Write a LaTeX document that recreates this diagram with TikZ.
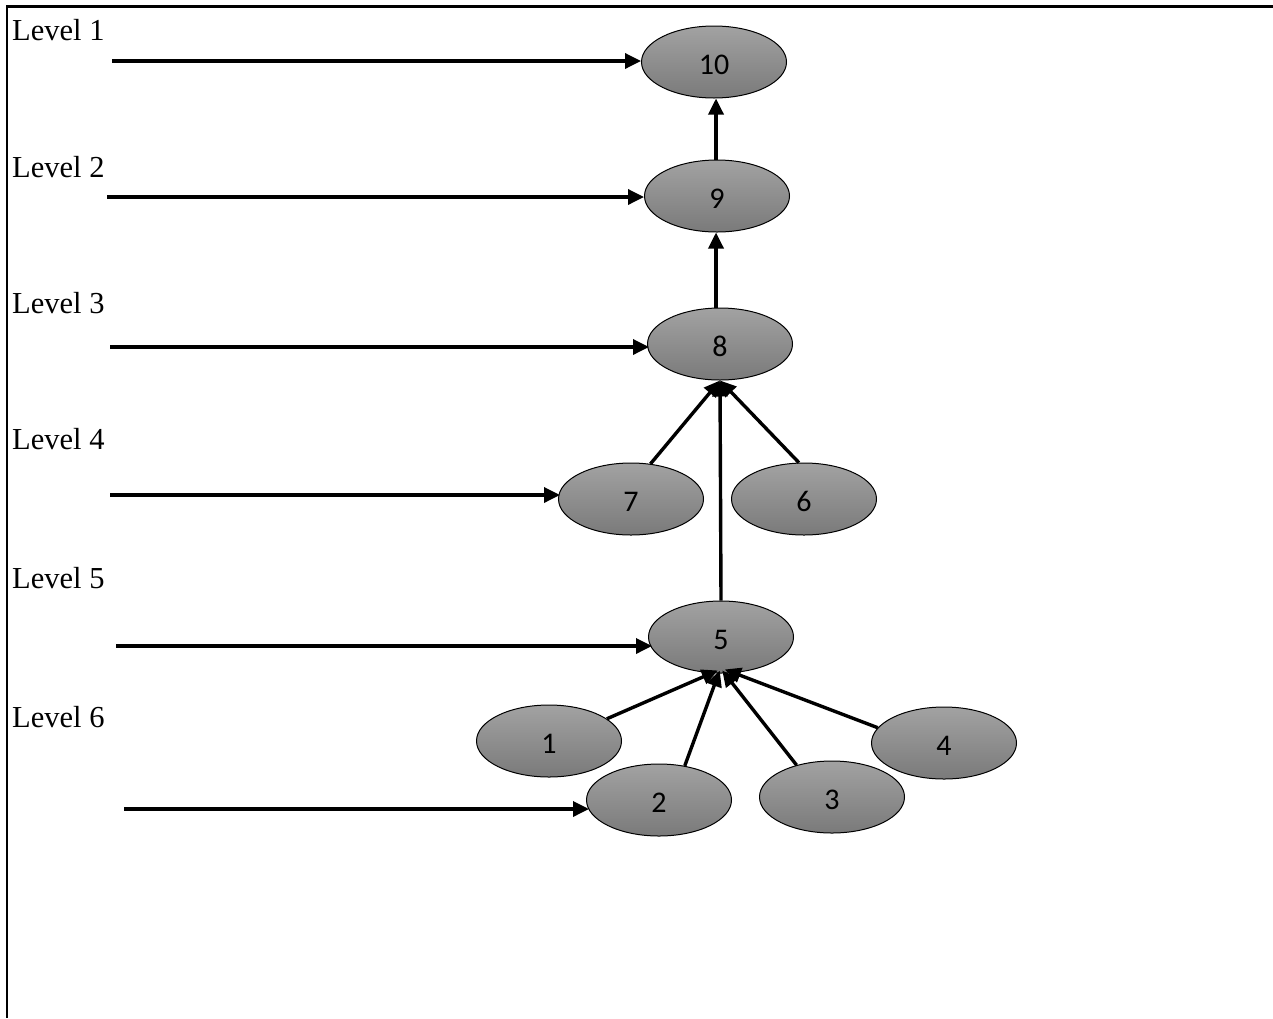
\documentclass[tikz,border=0pt]{standalone}
\usepackage{fontspec}
\setmainfont{Liberation Serif}
\newfontfamily\numfont{Carlito}
\usetikzlibrary{shapes.geometric,arrows.meta}

\tikzset{
  lvnode/.style={ellipse, draw=black, line width=1pt,
    minimum width=145pt, minimum height=72pt, inner sep=0pt,
    top color={rgb,255:red,162;green,162;blue,162},
    bottom color={rgb,255:red,122;green,122;blue,122},
    font=\numfont\fontsize{30}{30}\selectfont, text=black,
    text depth=0pt, text height=25pt},
  lvlabel/.style={anchor=base west, inner sep=0pt,
    font=\fontsize{30.5}{30.5}\selectfont},
  arr/.style={line width=3.4pt, -{Triangle[length=16pt,width=15pt]}},
  frame/.style={line width=2.2pt}
}

\begin{document}
\begin{tikzpicture}[x=1pt, y=-1pt]
  \useasboundingbox (0,0) rectangle (1273,1018);

  % frame: top and left rules
  \draw[frame] (1273,6.5) -- (7,6.5) -- (7,1018);

  % level labels
  \node[lvlabel] (l1) at (12,40)  {Level 1};
  \node[lvlabel] (l2) at (12,177) {Level 2};
  \node[lvlabel] (l3) at (12,313) {Level 3};
  \node[lvlabel] (l4) at (12,449) {Level 4};
  \node[lvlabel] (l5) at (12,588) {Level 5};
  \node[lvlabel] (l6) at (12,727) {Level 6};

  % tree nodes
  \node[lvnode] (n10) at (714,62)  {10};
  \node[lvnode] (n9)  at (717,196) {9};
  \node[lvnode] (n8)  at (720,344) {8};
  \node[lvnode] (n7)  at (631,499) {7};
  \node[lvnode] (n6)  at (804,499) {6};
  \node[lvnode] (n5)  at (721,637) {5};
  \node[lvnode] (n1)  at (549,741) {1};
  \node[lvnode] (n2)  at (659,800) {2};
  \node[lvnode] (n3)  at (832,797) {3};
  \node[lvnode] (n4)  at (944,743) {4};

  % start points of the level pointers
  \coordinate (s1) at (112,61);
  \coordinate (s2) at (107,197);
  \coordinate (s3) at (110,347);
  \coordinate (s4) at (110,495);
  \coordinate (s5) at (116,646);
  \coordinate (s6) at (124,809);

  % level pointers
  \draw[arr] (s1) -- (s1 -| n10.west);
  \draw[arr] (s2) -- (s2 -| n9.west);
  \draw[arr] (s3) -- ([xshift=2pt]s3 -| n8.west);
  \draw[arr] (s4) -- ([xshift=2pt]s4 -| n7.west);
  \draw[arr] (s5) -- ([xshift=4pt]s5 -| n5.west);
  \draw[arr] (s6) -- ([xshift=3pt]s6 -| n2.west);

  % tree edges
  \draw[arr] ([xshift=-1pt]n9.north) -- ([xshift=-1pt]n9.north |- n10.south);
  \draw[arr] ([xshift=-4pt]n8.north) -- ([xshift=-4pt]n8.north |- n9.south);
  \draw[arr] (n7.61) -- (n8.south);
  \draw[arr] (n6.98) -- (n8.south);
  \draw[arr] (n5.north) -- (n8.south);
  \draw[arr] (n1.21) -- ([yshift=3pt]n5.265);
  \draw[arr] (n2.53) -- ([yshift=3pt]n5.268);
  \draw[arr] (n3.138) -- ([yshift=3pt]n5.272);
  \draw[arr] (n4.167) -- ([yshift=4pt]n5.276);
\end{tikzpicture}
\end{document}
